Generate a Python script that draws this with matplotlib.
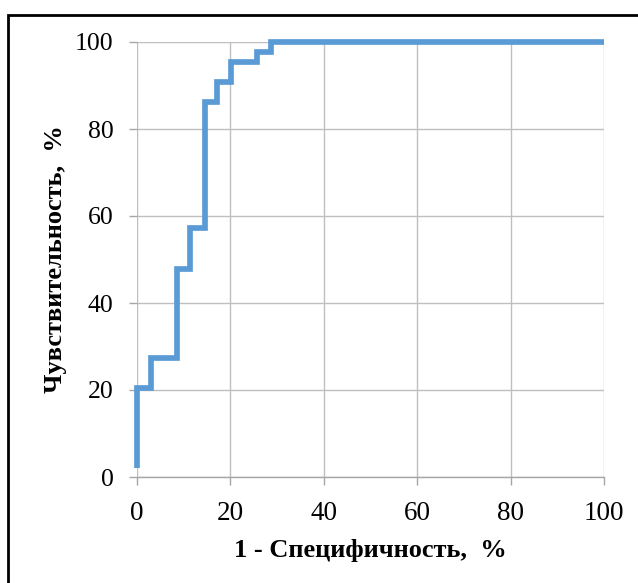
import matplotlib
matplotlib.use("Agg")
import matplotlib.pyplot as plt
from matplotlib.patches import Rectangle

# ROC curve vertices (1 - specificity, sensitivity), %
fpr = [0, 0, 3.1, 3.1, 8.5, 8.5, 11.4, 11.4, 14.5, 14.5, 17.2, 17.2,
       20.2, 20.2, 25.6, 25.6, 28.7, 28.7, 100]
tpr = [2, 20.5, 20.5, 27.4, 27.4, 47.8, 47.8, 57.3, 57.3, 86.1, 86.1, 90.9,
       90.9, 95.5, 95.5, 97.7, 97.7, 100, 100]
ticks = [0, 20, 40, 60, 80, 100]
xlabel = "1 - Специфичность,  %"
ylabel = "Чувствительность,  %"

plt.rcParams['font.family'] = ['Liberation Serif', 'DejaVu Serif']

fig = plt.figure(figsize=(6.38, 5.83), dpi=100)
ax = fig.add_axes([137/638, 1 - 477/583, (604 - 137)/638, (477 - 42)/583])

ax.plot(fpr, tpr, color='#5B9BD5', lw=4.1, clip_on=False, zorder=5,
        solid_joinstyle='miter', solid_capstyle='butt')

ax.set_xlim(0, 100)
ax.set_ylim(0, 100)
ax.set_xticks(ticks)
ax.set_yticks(ticks)
ax.grid(True, color='#BFBFBF', lw=1.0)
ax.set_axisbelow(True)
for s in ['top', 'right', 'left']:
    ax.spines[s].set_visible(False)
ax.spines['bottom'].set_color('#A6A6A6')
ax.spines['bottom'].set_linewidth(1.0)
ax.tick_params(axis='both', which='both', direction='out', length=5.5,
               color='#A6A6A6', width=1.0)
ax.tick_params(axis='x', pad=11.5, labelsize=19.5)
ax.tick_params(axis='y', pad=11.5, labelsize=18.5)
ax.set_xlabel(xlabel, fontsize=19, fontweight='bold', labelpad=9.5)
ax.set_ylabel(ylabel, fontsize=19, fontweight='bold', labelpad=5.5, y=0.5)

# outer frame
fig.patches.append(Rectangle((8/638, -0.05), 1.1, 1 - 15/583 + 0.05,
                             transform=fig.transFigure, fill=False,
                             edgecolor='black', lw=2, clip_on=False))

fig.savefig("out.png", dpi=100)
